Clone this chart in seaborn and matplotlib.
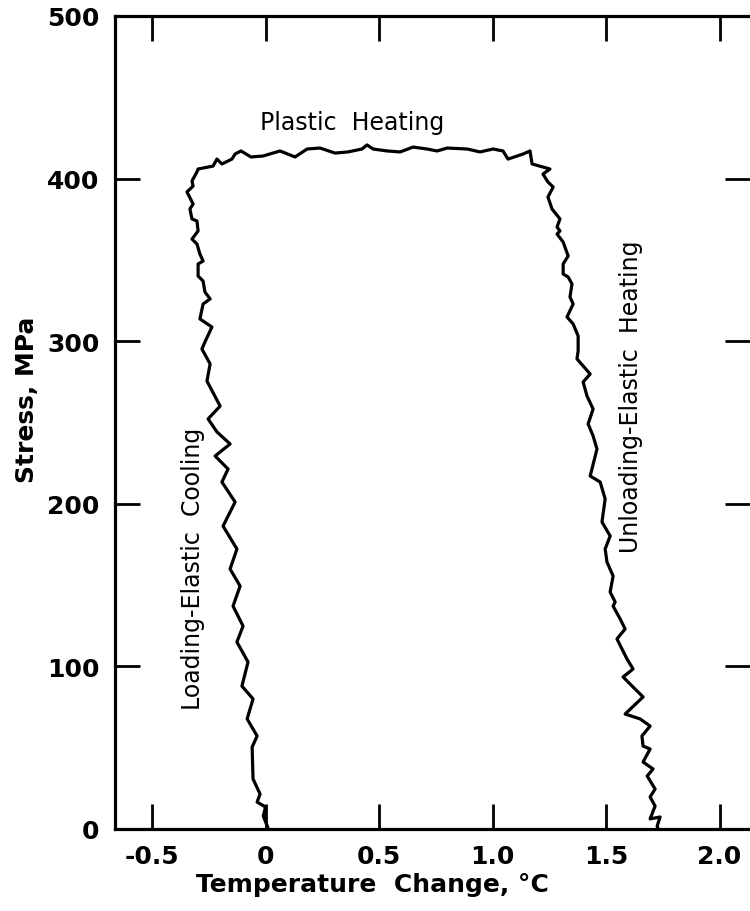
import numpy as np
import pandas as pd
import seaborn as sns
import matplotlib
matplotlib.use("Agg")
import matplotlib.pyplot as plt

# ---- data (loading -> plastic -> unloading) ----
temperature = [
    0.01, -0.01, 0.00, -0.037, -0.024, -0.055, -0.059, -0.037, -0.081, -0.055,
    -0.104, -0.077, -0.126, -0.099, -0.143, -0.112, -0.156, -0.126, -0.187, -0.134,
    -0.192, -0.165, -0.222, -0.156, -0.214, -0.253, -0.200, -0.258, -0.244, -0.280,
    -0.267, -0.236, -0.289, -0.275, -0.244, -0.267, -0.275, -0.297, -0.297, -0.275,
    -0.289, -0.302, -0.324, -0.297, -0.302, -0.324, -0.333, -0.319, -0.346, -0.319,
    -0.324, -0.302, -0.297, -0.231, -0.214, -0.192, -0.148, -0.134, -0.108, -0.064,
    -0.011, 0.064, 0.130, 0.183, 0.240, 0.306, 0.363, 0.425, 0.447, 0.474,
    0.535, 0.593, 0.650, 0.711, 0.756, 0.800, 0.888, 0.945, 1.002, 1.046,
    1.068, 1.134, 1.165, 1.174, 1.222, 1.253, 1.222, 1.244, 1.267, 1.244,
    1.262, 1.297, 1.284, 1.297, 1.284, 1.311, 1.333, 1.311, 1.311, 1.333,
    1.350, 1.341, 1.355, 1.328, 1.355, 1.377, 1.377, 1.372, 1.430, 1.399,
    1.416, 1.443, 1.421, 1.443, 1.460, 1.430, 1.474, 1.496, 1.482, 1.518,
    1.496, 1.504, 1.531, 1.518, 1.540, 1.531, 1.562, 1.584, 1.548, 1.592,
    1.619, 1.575, 1.619, 1.663, 1.584, 1.650, 1.694, 1.658, 1.663, 1.694,
    1.663, 1.707, 1.681, 1.716, 1.694, 1.716, 1.694, 1.738, 1.725, 1.729,
]
stress = [
    1, 8, 13.5, 16.6, 21.5, 30.8, 50.4, 57.2, 67.7, 80,
    87.9, 102.7, 115, 124.8, 137.1, 149.4, 159.9, 172.2, 186.3, 201.1,
    213.4, 221.4, 229.4, 236.8, 244.2, 252.2, 260.1, 275.5, 286, 295.2,
    299.5, 308.7, 313.7, 322.9, 326, 330.3, 337, 340.1, 347.5, 349.3,
    353.6, 359.8, 362.8, 367.8, 373.9, 375.2, 381.3, 384.4, 391.8, 395.4,
    398.5, 404.1, 405.9, 407.7, 412, 409, 412, 415.1, 417, 413.3,
    413.9, 417, 413.3, 418.2, 418.8, 415.7, 416.4, 418.2, 420.7, 418.2,
    417, 416.4, 419.4, 418.2, 417, 418.8, 418.2, 416.4, 418.2, 417,
    412, 415.1, 417, 409, 407.1, 405.9, 402.8, 397.9, 394.8, 388.7,
    381.3, 375.2, 370.2, 367.8, 365.9, 361, 352.4, 347.5, 341.3, 339.5,
    335.2, 327.2, 322.9, 314.9, 310.6, 303.2, 294, 289.1, 279.8, 274.9,
    266.3, 258.3, 249.1, 241.7, 233.7, 217.1, 213.4, 203, 188.8, 180.2,
    172.2, 164.2, 155.6, 145.8, 139.6, 137.1, 129.2, 123, 116.9, 104.6,
    98.4, 93.5, 87.3, 81.2, 70.7, 67.7, 63.3, 57.2, 51, 49.2,
    41.2, 36.9, 32.6, 24.6, 19.7, 14.1, 6.2, 7.4, 1.8, 0,
]

x_ticks = [-0.5, 0.0, 0.5, 1.0, 1.5, 2.0]
x_tick_labels = ["-0.5", "0", "0.5", "1.0", "1.5", "2.0"]
y_ticks = [0, 100, 200, 300, 400, 500]
y_tick_labels = ["0", "100", "200", "300", "400", "500"]

x_label = "Temperature  Change, °C"
y_label = "Stress, MPa"
annotations = ["Plastic  Heating", "Loading-Elastic  Cooling", "Unloading-Elastic  Heating"]

# ---- styling ----
sns.set_theme(style="ticks")
plt.rcParams["font.family"] = ["DejaVu Sans"]
plt.rcParams["text.color"] = "black"
plt.rcParams["axes.labelcolor"] = "black"
plt.rcParams["xtick.color"] = "black"
plt.rcParams["ytick.color"] = "black"

fig = plt.figure(figsize=(7.5, 9.12), dpi=100)
ax = fig.add_axes([115 / 750, 82 / 912, 635 / 750, 813 / 912])

df = pd.DataFrame({"temperature": temperature, "stress": stress})
sns.lineplot(data=df, x="temperature", y="stress", sort=False, estimator=None,
             color="black", linewidth=2.3, ax=ax)

ax.set_xlim(-0.663, 2.134)
ax.set_ylim(0, 500)

ax.set_xticks(x_ticks)
ax.set_xticklabels(x_tick_labels, fontsize=18, fontweight="bold")
ax.set_yticks(y_ticks)
ax.set_yticklabels(y_tick_labels, fontsize=18, fontweight="bold")

ax.tick_params(axis="both", which="major", direction="in", length=18, width=2.0,
               color="black", labelcolor="black", top=True, right=True, bottom=True,
               left=True, labeltop=False, labelright=False, pad=11)

for side in ["left", "bottom", "top"]:
    ax.spines[side].set_visible(True)
    ax.spines[side].set_linewidth(2.3)
    ax.spines[side].set_color("black")
ax.spines["right"].set_visible(False)

ax.set_xlabel(x_label, fontsize=18, fontweight="bold", color="black")
ax.xaxis.set_label_coords((372 - 115) / 635, (830 - 885) / 813)
ax.xaxis.label.set_va("center")

ax.set_ylabel(y_label, fontsize=18, fontweight="bold", color="black")
ax.yaxis.set_label_coords((27 - 115) / 635, (830 - 400) / 813)
ax.yaxis.label.set_va("center")
ax.yaxis.label.set_ha("center")

ax.text(0.381, 434.8, annotations[0], fontsize=17, ha="center", va="center", color="black")
ax.text(-0.319, 160.5, annotations[1], fontsize=17, ha="center", va="center",
        rotation=90, color="black")
ax.text(1.61, 266.3, annotations[2], fontsize=17, ha="center", va="center",
        rotation=90, color="black")

fig.savefig("out.png", dpi=100, facecolor="white")
